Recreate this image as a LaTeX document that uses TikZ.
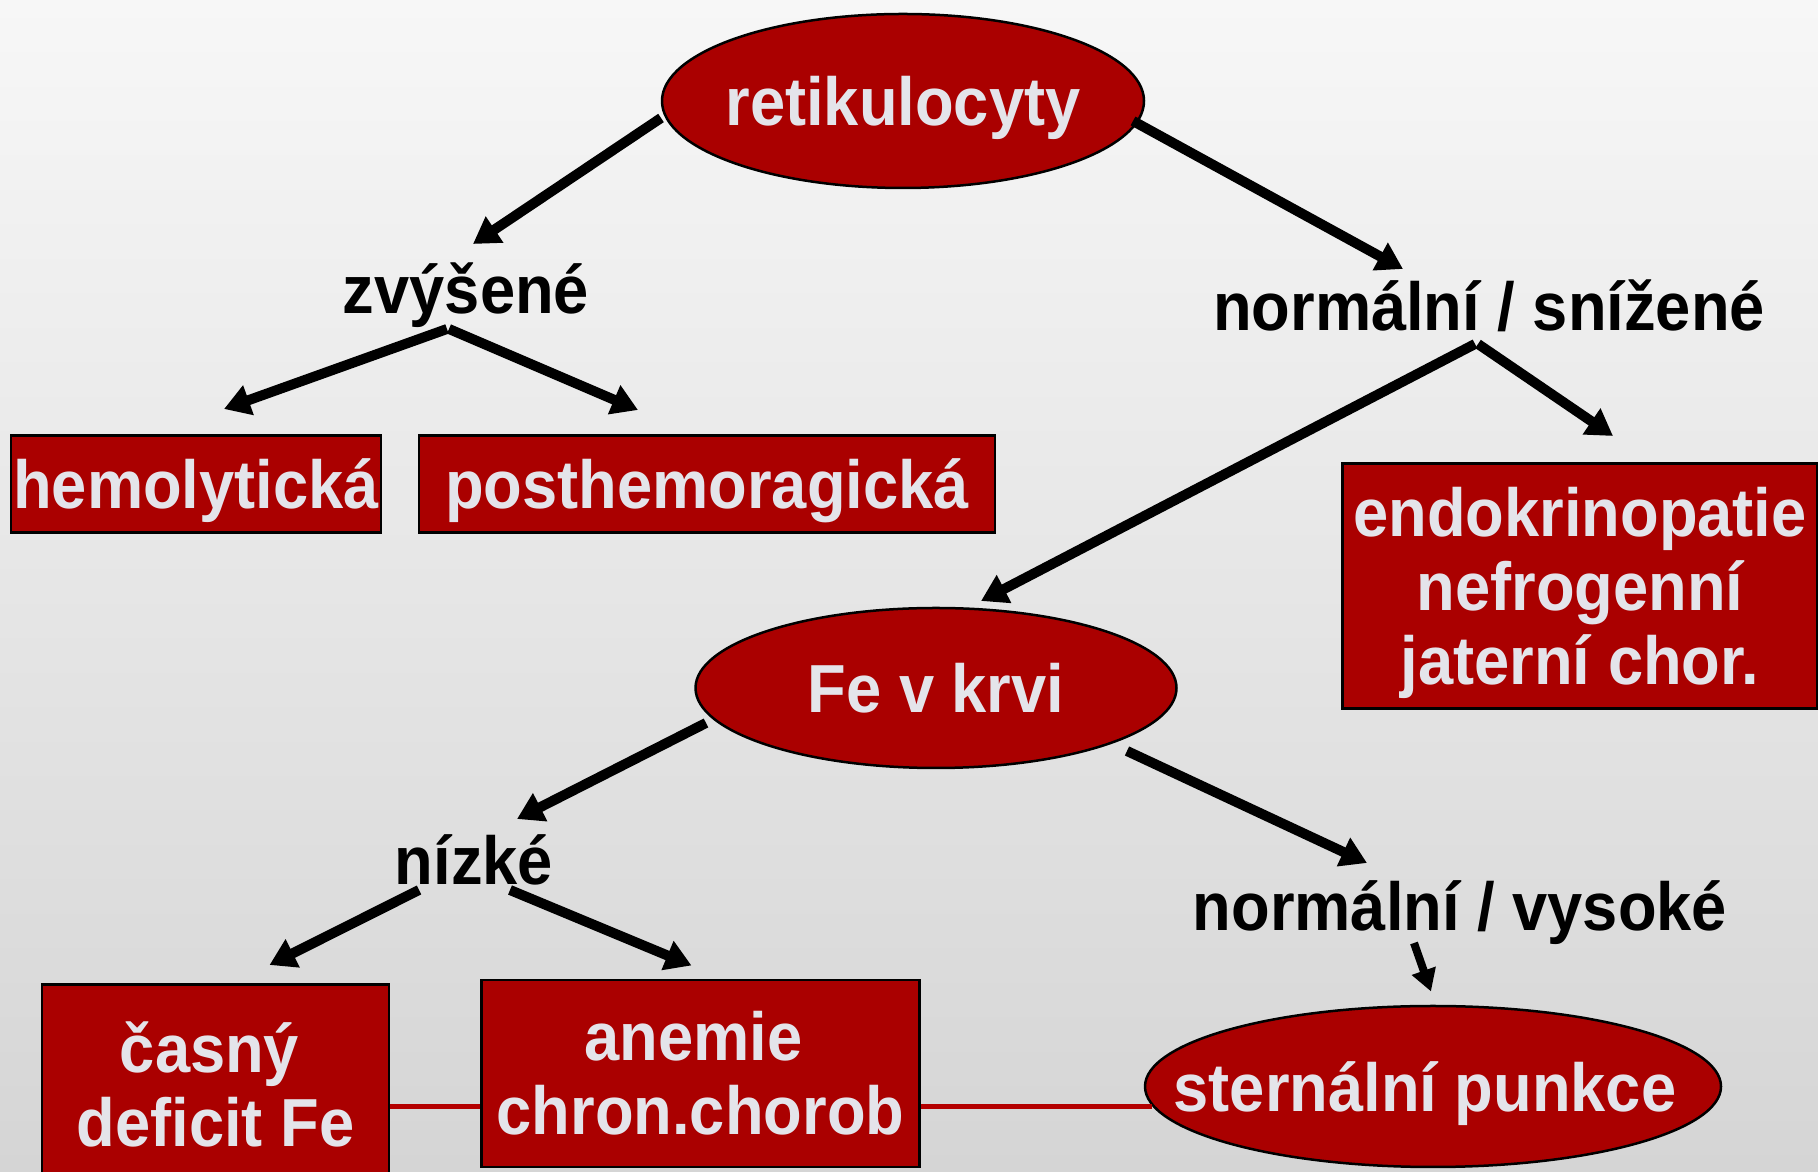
\documentclass[tikz,border=0pt]{standalone}
\usepackage{fontspec}
\setmainfont{Liberation Sans}[FakeStretch=0.93]
\usetikzlibrary{shapes.geometric,arrows.meta}
\definecolor{boxred}{HTML}{AA0000}
\definecolor{boxtxt}{HTML}{E4E4EA}
\definecolor{linered}{HTML}{B40000}
\definecolor{bgtop}{HTML}{F7F7F7}
\definecolor{bgbot}{HTML}{D5D5D5}
\newcommand{\mybig}{\fontsize{68}{74}\selectfont\bfseries}
\begin{document}
\begin{tikzpicture}[x=1pt,y=1pt,
  redbox/.style={draw=black, line width=2.5pt, fill=boxred, text=boxtxt, inner sep=0pt, align=center, font=\mybig},
  redell/.style={ellipse, draw=black, line width=2.5pt, fill=boxred, text=boxtxt, inner xsep=-90pt, inner ysep=-20pt, text depth=0pt, font=\mybig},
  lab/.style={text=black, inner sep=0pt, font=\mybig},
  arr/.style={draw=black, line width=10pt, -{Triangle[length=26pt,width=30pt]}},
  smallarr/.style={draw=black, line width=8pt, -{Triangle[length=22pt,width=24pt]}},
  link/.style={draw=linered, line width=5pt}]
\useasboundingbox (0,0) rectangle (1818,1172);
\clip (0,0) rectangle (1818,1172);
\shade[top color=bgtop, bottom color=bgbot] (0,0) rectangle (1818,1172);

% nodes
\node[redell, minimum width=482pt, minimum height=174pt] (ret) at (903,1071) {retikulocyty};
\node[lab] (zv) at (466,877) {zvýšené};
\node[lab] (ns) at (1489,866) {normální / snížené};
\node[redbox, text depth=0pt, minimum width=370pt, minimum height=97pt] (hem) at (196,688) {hemolytická};
\node[redbox, text depth=0pt, minimum width=576pt, minimum height=97pt] (post) at (707,688) {posthemoragická};
\node[redbox, text depth=0pt, minimum width=475pt, minimum height=245pt] (endo) at (1580,586) {endokrinopatie\\nefrogenní\\jaterní chor.};
\node[redell, minimum width=481pt, minimum height=160pt] (fe) at (936,484) {Fe v krvi};
\node[lab] (ni) at (474,312) {nízké};
\node[lab] (nv) at (1460,259) {normální / vysoké};
\node[redbox, minimum width=347pt, minimum height=199pt] (cas) at (215.5,88) {časný\hspace*{12pt}\\deficit Fe};
\node[redbox, minimum width=438pt, minimum height=187pt] (an) at (700.5,98.5) {anemie\hspace*{14pt}\\chron.chorob};
\node[redell, minimum width=576pt, minimum height=161pt] (st) at (1433,85.5) {sternální punkce\hspace*{16pt}};

% red links
\draw[link] (cas.east |- st.184) -- (an.west |- st.184);
\draw[link] (an.east |- st.184) -- (st.184);

% arrows
\draw[arr] ([shift={(-242,-17)}]ret.center) -- ([shift={(7,51)}]zv.center);
\draw[arr] ([shift={(230,-20)}]ret.center) -- ([shift={(-86,37)}]ns.center);
\draw[arr] ([shift={(-19,-34)}]zv.center) -- ([shift={(28,75)}]hem.center);
\draw[arr] ([shift={(-17,-34)}]zv.center) -- ([shift={(-69,74)}]post.center);
\draw[arr] ([shift={(-14,-38)}]ns.center) -- ([shift={(45,87)}]fe.center);
\draw[arr] ([shift={(-11,-38)}]ns.center) -- ([shift={(33,150)}]endo.center);
\draw[arr] ([shift={(-230,-35)}]fe.center) -- ([shift={(43,41)}]ni.center);
\draw[arr] ([shift={(191,-63)}]fe.center) -- ([shift={(-93,50)}]nv.center);
\draw[arr] ([shift={(-55,-30)}]ni.center) -- ([shift={(54,119)}]cas.center);
\draw[arr] ([shift={(36,-30)}]ni.center) -- ([shift={(-9,108)}]an.center);
\draw[smallarr] ([shift={(-46,-30)}]nv.center) -- ([shift={(-2,95)}]st.center);
\end{tikzpicture}
\end{document}
